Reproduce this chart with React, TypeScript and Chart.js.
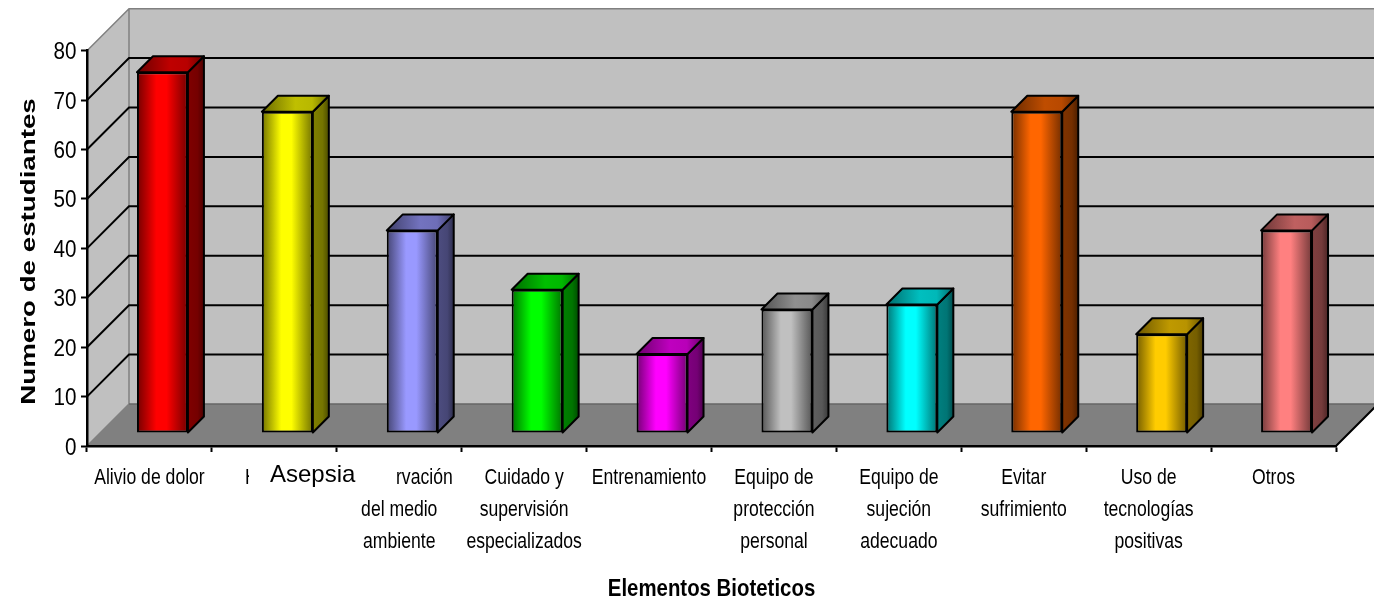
import React, { useEffect, useRef } from "react";
import { Chart, registerables } from "chart.js";

Chart.register(...registerables);

const categories: (string | string[])[] = [
  "Alivio de dolor",
  "",
  ["", "del medio", "ambiente"],
  ["Cuidado y", "supervisión", "especializados"],
  "Entrenamiento",
  ["Equipo de", "protección", "personal"],
  ["Equipo de", "sujeción", "adecuado"],
  ["Evitar", "sufrimiento"],
  ["Uso de", "tecnologías", "positivas"],
  "Otros",
];
const students = [73, 65, 41, 29, 16, 25, 26, 65, 20, 41];
const barColors = ["#ff0000", "#ffff00", "#9999ff", "#00ff00", "#ff00ff", "#c0c0c0", "#00ffff", "#ff6600", "#ffcc00", "#ff8080"];
const yTicks = [0, 10, 20, 30, 40, 50, 60, 70, 80];
const xTitle = "Elementos Bioteticos";
const yTitle = "Numero de estudiantes";

const SANS = "'Liberation Sans', Arial, sans-serif";
const DX = 42; // wall depth
const INSET = 13; // bar front inset from the axis plane
const BAR_D = 16; // bar depth
const BAR_PCT = 0.408;

function shade(hex: string, f: number) {
  const n = parseInt(hex.slice(1), 16);
  const r = Math.round(((n >> 16) & 255) * f);
  const g = Math.round(((n >> 8) & 255) * f);
  const b = Math.round((n & 255) * f);
  return `rgb(${r},${g},${b})`;
}

function hGrad(ctx: CanvasRenderingContext2D, x0: number, x1: number, stops: [number, string][]) {
  const g = ctx.createLinearGradient(x0, 0, x1, 0);
  stops.forEach(([p, c]) => g.addColorStop(p, c));
  return g;
}

function poly(ctx: CanvasRenderingContext2D, pts: number[][]) {
  ctx.beginPath();
  pts.forEach(([x, y], i) => (i ? ctx.lineTo(x, y) : ctx.moveTo(x, y)));
  ctx.closePath();
}

// The reference's text is squeezed or stretched along its length, which the font options cannot do.
function squeezed(ctx: CanvasRenderingContext2D, text: string, x: number, y: number, sx: number, align: CanvasTextAlign = "center", rot = 0) {
  ctx.save();
  ctx.translate(x, y);
  if (rot) ctx.rotate(rot);
  ctx.scale(sx, 1);
  ctx.textAlign = align;
  ctx.textBaseline = "alphabetic";
  ctx.fillText(text, 0, 0);
  ctx.restore();
}

const wallsPlugin = {
  id: "walls",
  beforeDraw(chart: any) {
    const { ctx, chartArea: a, scales } = chart;
    const y = scales.y;
    const L = a.left, R = a.right, T = y.getPixelForValue(80), B = y.getPixelForValue(0);
    ctx.save();
    ctx.fillStyle = "#c0c0c0";
    poly(ctx, [[L, T], [L + DX, T - DX], [R + DX, T - DX], [R + DX, B - DX], [L + DX, B - DX], [L, B]]);
    ctx.fill();
    ctx.fillStyle = "#808080";
    poly(ctx, [[L, B], [L + DX, B - DX], [R + DX, B - DX], [R, B]]);
    ctx.fill();
    ctx.strokeStyle = "#808080";
    ctx.lineWidth = 1.5;
    ctx.beginPath();
    ctx.moveTo(L, T); ctx.lineTo(L + DX, T - DX); ctx.lineTo(R + DX, T - DX);
    ctx.moveTo(L + DX, T - DX); ctx.lineTo(L + DX, B - DX);
    ctx.moveTo(L, B); ctx.lineTo(L + DX, B - DX);
    ctx.stroke();
    ctx.strokeStyle = "#666";
    ctx.beginPath();
    ctx.moveTo(L + DX, B - DX); ctx.lineTo(R + DX, B - DX);
    ctx.stroke();
    ctx.strokeStyle = "#000";
    ctx.lineWidth = 2;
    ctx.beginPath();
    yTicks.slice(1, -1).forEach((v) => {
      const p = y.getPixelForValue(v);
      ctx.moveTo(L, p); ctx.lineTo(L + DX, p - DX); ctx.lineTo(R + DX, p - DX);
    });
    ctx.moveTo(R, B); ctx.lineTo(R + DX, B - DX);
    ctx.stroke();
    ctx.restore();
  },
  beforeDatasetDraw(chart: any, args: any) {
    const { ctx } = chart;
    const meta = chart.getDatasetMeta(args.index);
    ctx.save();
    ctx.translate(INSET, -INSET);
    ctx.strokeStyle = "#000";
    ctx.lineWidth = 2;
    ctx.lineJoin = "round";
    meta.data.forEach((bar: any, i: number) => {
      const c = barColors[i];
      const l = bar.x - bar.width / 2, r = bar.x + bar.width / 2, t = bar.y, b = bar.base;
      ctx.fillStyle = hGrad(ctx, r, r + BAR_D, [[0, shade(c, 0.5)], [0.6, shade(c, 0.46)], [1, shade(c, 0.3)]]);
      poly(ctx, [[r, t], [r + BAR_D, t - BAR_D], [r + BAR_D, b - BAR_D], [r, b]]);
      ctx.fill(); ctx.stroke();
      ctx.fillStyle = hGrad(ctx, l, r + BAR_D, [[0, shade(c, 0.42)], [0.5, shade(c, 0.75)], [0.75, shade(c, 0.72)], [1, shade(c, 0.42)]]);
      poly(ctx, [[l, t], [l + BAR_D, t - BAR_D], [r + BAR_D, t - BAR_D], [r, t]]);
      ctx.fill(); ctx.stroke();
    });
    // the front faces are drawn by the bar controller inside this translation
  },
  afterDatasetDraw(chart: any) {
    chart.ctx.restore();
  },
  afterDraw(chart: any) {
    const { ctx, scales } = chart;
    const xs = scales.x;
    const ys = scales.y;
    ctx.save();
    ctx.fillStyle = "#000";
    // category labels, at the positions of the library's x axis
    ctx.font = `22px ${SANS}`;
    xs.ticks.forEach((tick: any, i: number) => {
      const lines: string[] = Array.isArray(tick.label) ? tick.label : [tick.label];
      lines.forEach((line, j) => {
        if (line) squeezed(ctx, line, xs.getPixelForTick(i), 483.5 + j * 32, 0.8);
      });
    });
    // value labels, at the positions of the library's y axis
    ctx.font = `24px ${SANS}`;
    ys.ticks.forEach((tick: any) => {
      squeezed(ctx, String(tick.value), 76.5, ys.getPixelForValue(tick.value) + 8.5, 0.86, "right");
    });
    // the label fragments left uncovered by the text box inserted in the original
    ctx.font = `22px ${SANS}`;
    ctx.save();
    ctx.beginPath();
    ctx.rect(243, 462, 6, 28);
    ctx.clip();
    squeezed(ctx, "H", 245, 483.5, 0.8, "left");
    ctx.restore();
    squeezed(ctx, "rvación", 396, 483.5, 0.8, "left");
    ctx.font = `24px ${SANS}`;
    squeezed(ctx, "Asepsia", 270, 482, 1, "left");
    // axis titles
    ctx.font = `bold 24px ${SANS}`;
    squeezed(ctx, xTitle, (chart.chartArea.left + chart.chartArea.right) / 2, 596, 0.85);
    ctx.font = `bold 21px ${SANS}`;
    squeezed(ctx, yTitle, 35, 251.5, 1.32, "center", -Math.PI / 2);
    ctx.restore();
  },
};

export default function App() {
  const ref = useRef<HTMLCanvasElement>(null);
  useEffect(() => {
    const chart = new Chart(ref.current!, {
      type: "bar",
      data: {
        labels: categories as any,
        datasets: [
          {
            label: yTitle,
            data: students,
            barPercentage: BAR_PCT,
            categoryPercentage: 1,
            borderColor: "#000",
            borderWidth: 2,
            borderSkipped: false,
            backgroundColor: (c: any) => {
              const col = barColors[c.dataIndex];
              const xs = c.chart.scales.x;
              if (!xs || !c.chart.chartArea) return col;
              const w = (xs.getPixelForTick(1) - xs.getPixelForTick(0)) * BAR_PCT;
              const x0 = xs.getPixelForTick(c.dataIndex) - w / 2;
              return hGrad(c.chart.ctx, x0, x0 + w, [
                [0, shade(col, 0.45)],
                [0.38, col],
                [0.58, col],
                [1, shade(col, 0.45)],
              ]);
            },
          },
        ],
      },
      options: {
        animation: false,
        responsive: false,
        devicePixelRatio: 1,
        layout: { padding: { top: 50.7, right: 38, left: 0, bottom: 0 } },
        plugins: { legend: { display: false }, tooltip: { enabled: false } },
        scales: {
          x: {
            afterFit: (s: any) => { s.height = 157; },
            grid: { drawOnChartArea: false, offset: true, tickLength: 6, tickWidth: 2, tickColor: "#000" },
            border: { color: "#000", width: 2.5 },
            ticks: {
              autoSkip: false,
              maxRotation: 0,
              color: "rgba(0,0,0,0)",
              font: { family: SANS, size: 8 },
            },
          },
          y: {
            min: 0,
            max: 80,
            afterFit: (s: any) => { s.width = 87; },
            grid: { drawOnChartArea: false, tickLength: 6, tickWidth: 2, tickColor: "#000" },
            border: { color: "#000", width: 2.5 },
            ticks: {
              stepSize: 10,
              color: "rgba(0,0,0,0)",
              font: { family: SANS, size: 8 },
            },
          },
        },
      },
      plugins: [wallsPlugin],
    } as any);
    return () => chart.destroy();
  }, []);
  return (
    <div style={{ position: "fixed", left: 0, top: 0, width: 1374, height: 603, background: "#fff" }}>
      <canvas ref={ref} width={1374} height={603} style={{ display: "block" }} />
    </div>
  );
}
